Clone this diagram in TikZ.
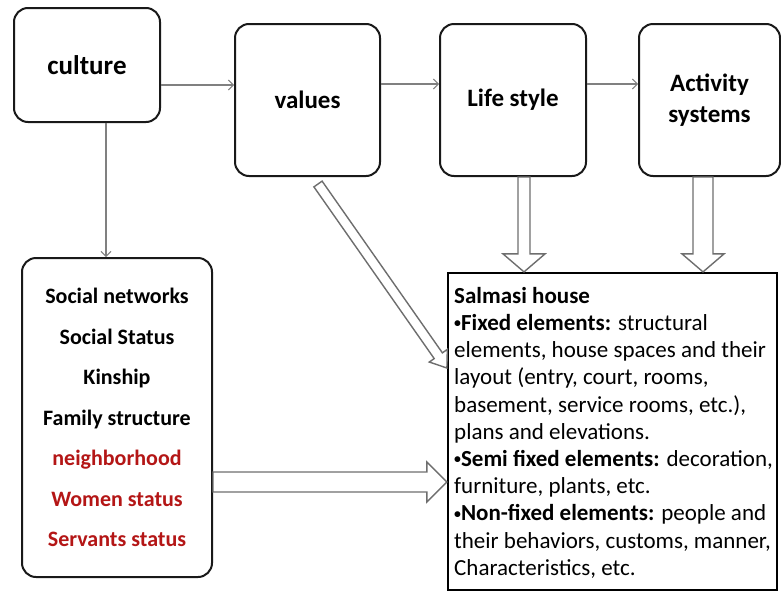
\documentclass[tikz,border=0pt]{standalone}
\usepackage{fontspec}
\setmainfont{Carlito}
\usetikzlibrary{calc,arrows.meta}
\definecolor{linegray}{RGB}{128,128,128}
\definecolor{arrgray}{RGB}{110,110,110}
\definecolor{darkred}{RGB}{180,22,22}
\newcommand\hollowarrow[5]{% from, to, shaft half width, head half width, head length
  \coordinate (ha-b) at ($(#2)!#5!(#1)$);
  \draw[hollow] ($(#1)!#3!90:(#2)$) -- ($(ha-b)!#3!-90:(#1)$) -- ($(ha-b)!#4!-90:(#1)$) -- (#2)
     -- ($(ha-b)!#4!90:(#1)$) -- ($(ha-b)!#3!90:(#1)$) -- ($(#1)!#3!-90:(#2)$) -- cycle;
}
\newcommand\smbullet{\raisebox{0.12em}{\scalebox{0.6}{•}}}
\begin{document}
\begin{tikzpicture}[x=1pt,y=-1pt,
  rbox/.style={draw=black!90, line width=2pt, rounded corners=14pt, fill=white, align=center,
     font=\bfseries\fontsize{25}{31}\selectfont, inner sep=0pt},
  thinarr/.style={draw=linegray, line width=1.2pt, -{Straight Barb[length=5pt,width=10pt,line width=1pt]}},
  hollow/.style={draw=arrgray, line width=1.4pt, fill=white, line join=miter},
]
\useasboundingbox (0,0) rectangle (781,592);
\node[rbox, minimum width=146pt, minimum height=114pt, font=\bfseries\fontsize{27}{31}\selectfont] (culture) at (87,65) {culture};
\node[rbox, minimum width=145pt, minimum height=152pt] (values) at (307.5,100) {values};
\node[rbox, minimum width=146pt, minimum height=152pt] (life) at (513,100) {Life style};
\node[rbox, minimum width=141pt, minimum height=152pt] (activity) at (709.5,100) {Activity\\systems};
\node[rbox, minimum width=190pt, minimum height=319pt, font=\bfseries\fontsize{22}{40.5}\selectfont] (social) at (117,417.5)
  {Social networks\\Social Status\\Kinship\\Family structure\\\textcolor{darkred}{neighborhood}\\\textcolor{darkred}{Women status}\\\textcolor{darkred}{Servants status}};
\node[draw=black, line width=2.2pt, minimum width=329pt, minimum height=317pt, inner sep=0pt] (house) at (612.5,431.5) {};
\node[anchor=north west, inner sep=0pt, align=left, font=\fontsize{23}{27.2}\selectfont] (housetext) at (454,287)
  {\textbf{Salmasi house}\\
   \textbf{\smbullet Fixed elements:} structural\\
   elements, house spaces and their\\
   layout (entry, court, rooms,\\
   basement, service rooms, etc.),\\
   plans and elevations.\\
   \textbf{\smbullet Semi fixed elements:} decoration,\\
   furniture, plants, etc.\\
   \textbf{\smbullet Non-fixed elements:} people and\\
   their behaviors, customs, manner,\\
   Characteristics, etc.};
% thin arrows
\draw[thinarr] (culture.east |- 0,85) -- (values.west |- 0,85);
\draw[thinarr] (values.east |- 0,84) -- (life.west |- 0,84);
\draw[thinarr] (life.east |- 0,84) -- (activity.west |- 0,84);
\draw[thinarr] (culture.south -| 106,0) -- (social.north -| 106,0);
% hollow arrows
\coordinate (la) at (life.south -| 524,0);
\coordinate (lb) at (house.north -| 524,0);
\hollowarrow{la}{lb}{6pt}{21pt}{18pt}
\coordinate (aa) at (activity.south -| 703,0);
\coordinate (ab) at (house.north -| 703,0);
\hollowarrow{aa}{ab}{10pt}{21pt}{18pt}
\coordinate (sa) at (social.east |- 0,482);
\coordinate (sb) at (house.west |- 0,482);
\hollowarrow{sa}{sb}{10pt}{20pt}{20pt}
\coordinate (va) at (318,184);
\coordinate (vb) at (house.west |- 0,368);
\hollowarrow{va}{vb}{5pt}{11pt}{15pt}
\end{tikzpicture}
\end{document}
